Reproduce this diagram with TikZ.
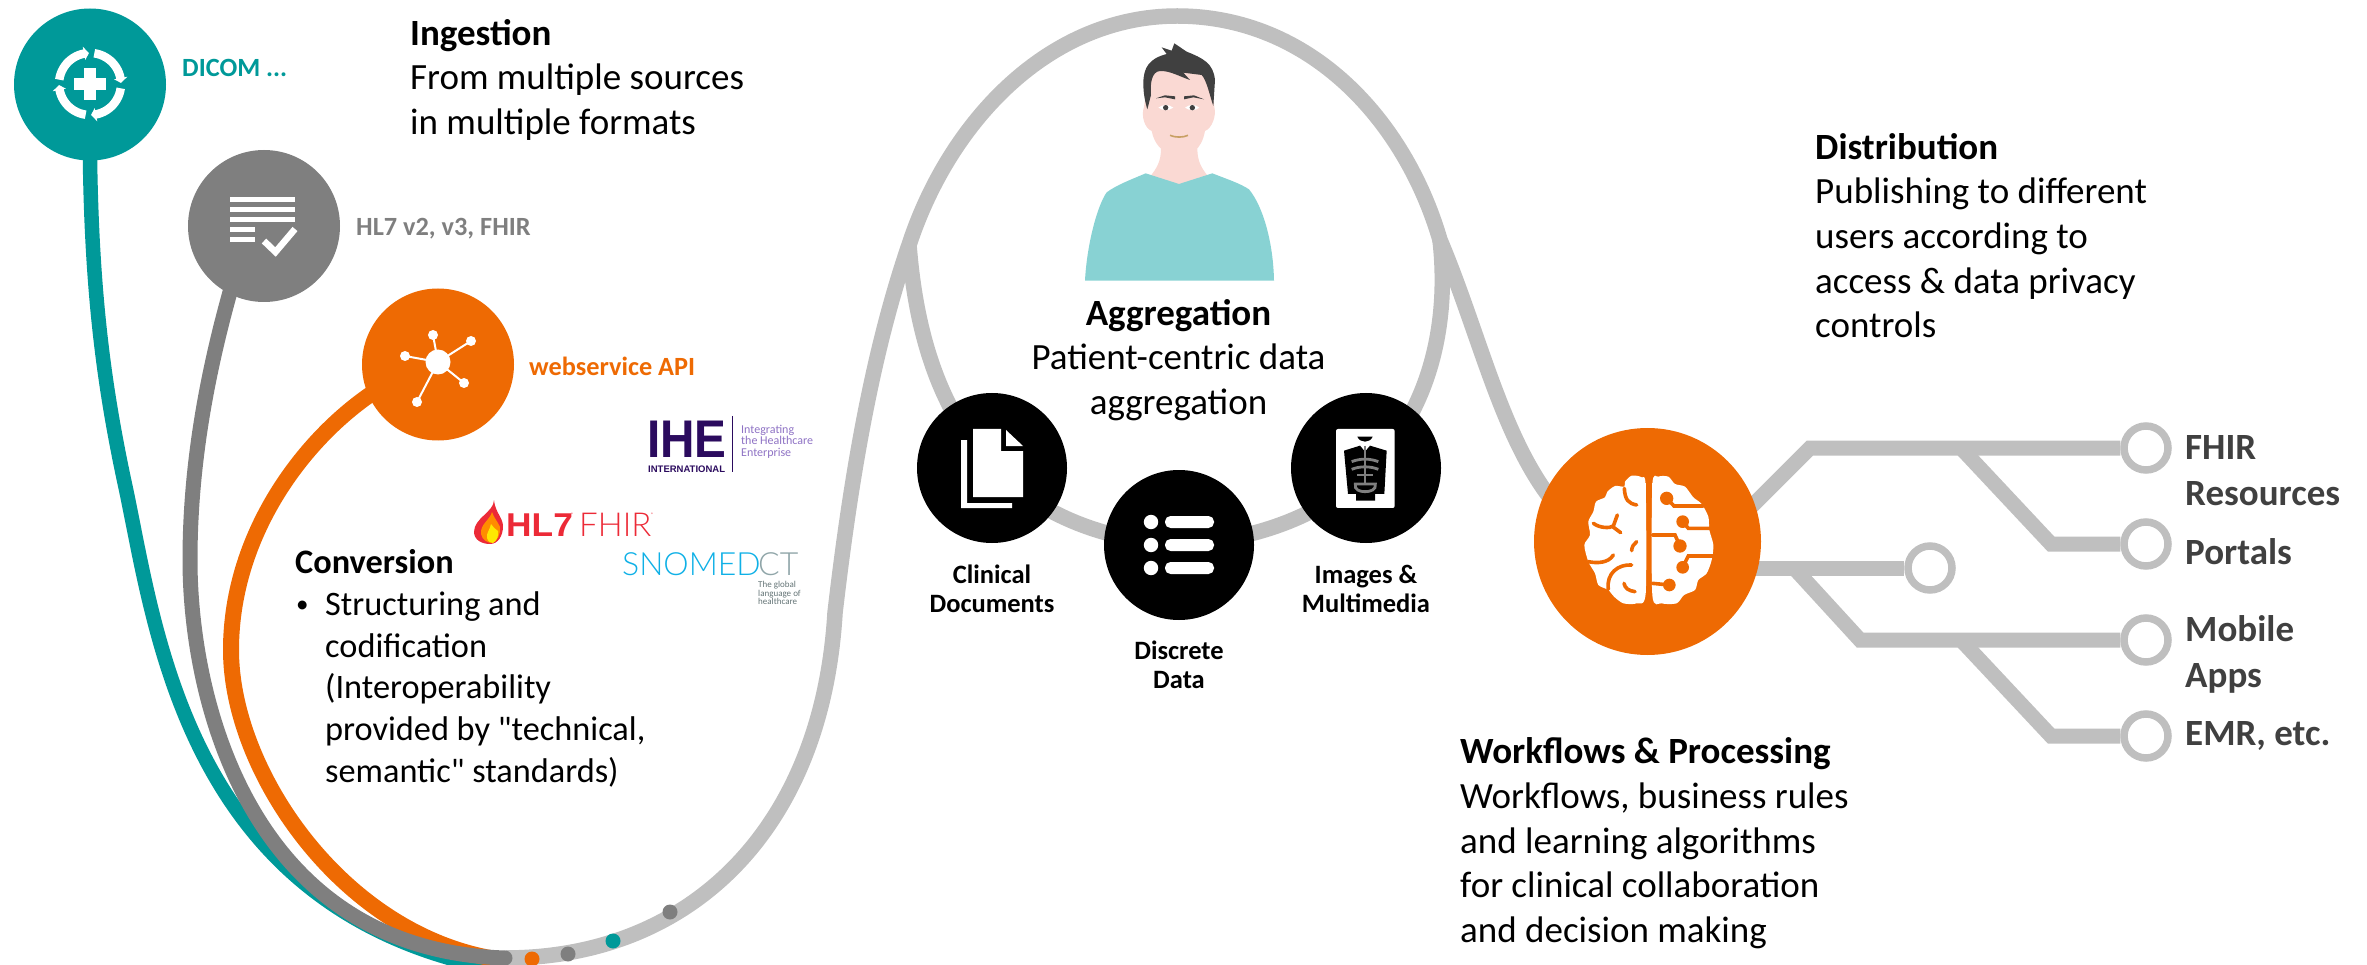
\documentclass[tikz,border=0pt]{standalone}
\usepackage{fontspec}
\setmainfont{Carlito}
\newfontfamily\plainf{Carlito}
\newfontfamily\lightf{Lato Light}
\newfontfamily\helv{Liberation Sans}
\usetikzlibrary{calc}
\pgfdeclarelayer{back}
\pgfsetlayers{back,main}
\definecolor{cteal}{HTML}{009999}
\definecolor{cgray}{HTML}{7F7F7F}
\definecolor{corange}{HTML}{EE6A03}
\definecolor{clight}{HTML}{BFBFBF}
\definecolor{cdark}{HTML}{404040}
\definecolor{cshirt}{HTML}{88D2D3}
\definecolor{cskin}{HTML}{FAD9D3}
\definecolor{cpurple}{HTML}{2B0B5E}
\definecolor{clilac}{HTML}{8E72C4}
\definecolor{cred}{HTML}{EC2A37}
\definecolor{ccyan}{HTML}{0FB0E6}
\definecolor{cslate}{HTML}{8FA5A8}
\tikzset{
 txt/.style={inner sep=0pt,anchor=base west,align=left,text=black},
 big/.style={font=\fontsize{37}{44.7}\selectfont},
 conv/.style={font=\fontsize{34.3}{41.8}\selectfont},
 lab/.style={font=\fontsize{26.5}{29}\selectfont\bfseries},
 tag/.style={inner sep=0pt,anchor=base west,font=\fontsize{26.3}{29}\selectfont\bfseries},
 outlab/.style={inner sep=0pt,anchor=base west,align=left,text=cdark,font=\fontsize{37}{45.5}\selectfont\bfseries},
 disc/.style={circle,inner sep=0pt,minimum size=152pt},
 blk/.style={circle,inner sep=0pt,minimum size=150pt,fill=black},
 ringn/.style={circle,draw=clight,fill=white,line width=7.5pt,inner sep=0pt,minimum size=44pt},
 flow/.style={line width=15pt,draw=clight,line join=miter},
 mainline/.style={line width=15.5pt,draw=clight},
 curve/.style={line width=15pt,line cap=round},
 dot/.style={circle,inner sep=0pt,minimum size=15pt}
}
\begin{document}
\begin{tikzpicture}[x=1pt,y=-1pt]
\useasboundingbox (0,0) rectangle (2367,965);
% main nodes
\node[disc,fill=cteal] (teal) at (90,84.5) {};
\node[disc,fill=cgray] (gray) at (264,226) {};
\node[disc,fill=corange] (orange) at (438,364.5) {};
\node[blk] (clin) at (992,468) {};
\node[blk] (discr) at (1179,545) {};
\node[blk] (imgs) at (1366,468) {};
\node[circle,inner sep=0pt,minimum size=227pt,fill=corange] (brain) at (1647.5,541.5) {};
\node[ringn] (r1) at (2146,448) {};
\node[ringn] (r2) at (2146,544) {};
\node[ringn] (r3) at (1930,568) {};
\node[ringn] (r4) at (2146,640) {};
\node[ringn] (r5) at (2146,736) {};
\coordinate (b1) at (1730,528);
\coordinate (b2) at (1700,568);
\coordinate (t1) at (1810,448);
\coordinate (t2) at (1961,448);
\coordinate (t3) at (2051,544);
\coordinate (t4) at (1794,568);
\coordinate (t5) at (1860,640);
\coordinate (t6) at (1961,640);
\coordinate (t7) at (2051,736);
\coordinate (endgray) at (505,958);
\coordinate (jl) at (909,245);
\coordinate (jr) at (1440,240);
\begin{pgfonlayer}{back}
 % main grey line
 \draw[mainline] (endgray) .. controls (690,958) and (822,830) .. (835,613) .. controls (855,440) and (880,330) .. (jl) .. controls (950,120) and (1050,16) .. (1177,16) .. controls (1310,16) and (1405,120) .. (jr) .. controls (1478,330) and (1500,430) .. (1548,495) -- (brain.center);
 \draw[mainline] (jl) .. controls (918,360) and (960,530) .. (discr.center) .. controls (1400,530) and (1455,370) .. (jr);
 % tree
 \draw[flow] (b1) -- (t1) -- (r1);
 \draw[flow] (t2) -- (t3) -- (r2);
 \draw[flow] (b2) -- (r3);
 \draw[flow] (t4) -- (t5) -- (r4);
 \draw[flow] (t6) -- (t7) -- (r5);
 % coloured curves
 \draw[curve,draw=cteal,line width=14.5pt] (teal.center) -- (90,160) .. controls (92,300) and (105,390) .. (124,480) .. controls (155,620) and (180,905) .. (490,968);
 \draw[curve,draw=corange,line width=16pt] (orange.center) -- (385,385) .. controls (310,430) and (231,530) .. (231,650) .. controls (231,770) and (340,930) .. (490,958);
 \draw[curve,draw=cgray] (gray.center) -- (232,285) .. controls (205,380) and (190,470) .. (190,560) .. controls (190,700) and (250,950) .. (endgray);
\end{pgfonlayer}
% dots
\node[dot,fill=corange] (d1) at (532,959) {};
\node[dot,fill=cgray] (d2) at (568,954) {};
\node[dot,fill=cteal] (d3) at (613,941) {};
\node[dot,fill=cgray] (d4) at (670,912) {};
% teal icon
\begin{scope}[shift={(90,84)}]
 \fill[white] (-6.3,-16) rectangle (6.3,16);
 \fill[white] (-16,-6.3) rectangle (16,6.3);
 \foreach \a in {0,90,180,270}{
  \draw[white,line width=8.5pt] plot[domain=\a+8:\a+80,samples=14] (\x:31);
  \fill[white] ({\a+79}:24.5) -- ({\a+79}:38) -- ({\a+88}:31) -- cycle;
 }
\end{scope}
% gray icon
\fill[white] (230,197) rectangle (295,202);
\fill[white] (230,207) rectangle (295,212);
\fill[white] (230,217) rectangle (295,222);
\fill[white] (230,227) rectangle (255,232);
\fill[white] (230,237) rectangle (255,242);
\draw[white,line width=6.5pt] (264,241) -- (275.5,252) -- (295,229);
% orange icon
\fill[white] (438,362) circle (12.5);
\foreach \p in {(433,335),(471,341),(405,356),(464,383),(417,402)}{
 \draw[white,line width=2pt] (438,362) -- \p;
 \fill[white] \p circle (5);
}
% person
\begin{scope}[shift={(1050,30)},x=0.33333pt,y=-0.33333pt]
 \fill[cskin] (300,440) .. controls (320,415) and (333,395) .. (333,355) -- (442,355) .. controls (442,395) and (455,415) .. (475,440) -- (387,465) -- cycle;
 \fill[cskin] (282,230) .. controls (272,260) and (285,295) .. (305,303) .. controls (312,335) and (325,352) .. (345,365) .. controls (370,375) and (410,375) .. (435,362) .. controls (450,350) and (460,330) .. (465,303) .. controls (485,295) and (500,260) .. (493,230) -- (480,110) -- (300,110) -- cycle;
 \fill[cshirt] (105,752) .. controls (110,650) and (140,530) .. (170,487) .. controls (200,465) and (240,450) .. (287,430) -- (387,462) -- (487,430) .. controls (530,447) and (570,460) .. (597,478) .. controls (640,530) and (670,640) .. (672,752) -- cycle;
 \fill[cdark] (280,160) .. controls (280,110) and (300,85) .. (350,72) -- (335,52) -- (365,62) -- (373,40) -- (410,65) .. controls (460,85) and (490,100) .. (495,150) -- (490,228) .. controls (480,200) and (470,150) .. (455,135) -- (400,128) -- (420,150) .. controls (390,140) and (360,122) .. (330,123) .. controls (305,125) and (300,160) .. (303,195) -- (292,238) .. controls (285,215) and (280,190) .. (280,160) -- cycle;
 \fill[cdark] (318,205) -- (345,196) -- (375,199) -- (375,208) -- (345,202) -- cycle;
 \fill[cdark] (402,199) -- (432,196) -- (462,208) -- (430,202) -- (402,208) -- cycle;
 \fill[white] (325,233) .. controls (340,222) and (355,222) .. (370,233) .. controls (355,243) and (340,243) .. (325,233) -- cycle;
 \fill[white] (405,233) .. controls (420,222) and (435,222) .. (448,233) .. controls (435,243) and (420,243) .. (405,233) -- cycle;
 \fill[cdark] (347,233) circle (8);
 \fill[cdark] (427,233) circle (8);
 \draw[draw={rgb,255:red,200;green,160;blue,100},line width=1.6pt] (360,316) .. controls (375,323) and (400,323) .. (414,316);
\end{scope}
% document icon
\fill[white] (973,429) -- (1001,429) -- (1001,451) -- (1023,451) -- (1023,497) -- (973,497) -- cycle;
\fill[white] (1006,430) -- (1023,446) -- (1006,446) -- cycle;
\fill[white] (961,440) -- (967,440) -- (967,503) -- (1012,503) -- (1012,508) -- (961,508) -- cycle;
% discrete icon
\foreach \yy in {522,545,568}{
 \fill[white] (1151,\yy) circle (7.2);
 \fill[white,rounded corners=5.5pt] (1165,\yy-6) rectangle (1214,\yy+6);
}
% x-ray icon
\begin{scope}[shift={(1270,380)},x=0.33333pt,y=-0.33333pt]
 \fill[white,rounded corners=2pt] (198,147) rectangle (374,384);
 \fill[black] (222,212) -- (270,197) -- (285,215) -- (300,197) -- (350,212) -- (343,342) -- (315,342) -- (315,362) -- (258,362) -- (258,342) -- (234,342) -- cycle;
 \fill[black] (262,170) -- (308,170) .. controls (300,190) and (270,190) .. (262,170) -- cycle;
 \begin{scope}[draw=cgray,line width=2.8pt]
 \draw (285,197) -- (285,310);
 \draw (245,245) .. controls (270,235) and (300,235) .. (325,245);
 \draw (245,268) .. controls (270,258) and (300,258) .. (325,268);
 \draw (262,285) -- (308,285);
 \draw (256,312) -- (316,312) .. controls (320,330) and (300,335) .. (285,335) .. controls (270,335) and (252,330) .. (256,312) -- cycle;
 \end{scope}
\end{scope}
% brain
\begin{scope}[shift={(1530,420)},x=0.33333pt,y=-0.33333pt]
 \fill[white] plot[smooth cycle,tension=0.45] coordinates {(347,200) (335,172) (305,167) (285,185) (283,200) (255,198) (232,215) (225,232) (198,245) (190,275) (175,305) (180,345) (163,375) (175,425) (195,460) (205,495) (235,510) (252,530) (280,550) (320,550) (347,520)};
 \fill[white] (335,190) rectangle (347,520);
 \fill[white] plot[smooth cycle,tension=0.45] coordinates {(367,195) (385,170) (415,170) (435,192) (465,200) (490,232) (515,252) (535,290) (538,330) (550,375) (545,420) (530,460) (505,480) (495,510) (462,525) (440,550) (395,550) (367,525)};
 \fill[white] (367,190) rectangle (380,520);
 \begin{scope}[draw=corange,line width=3.6pt,line cap=round]
 \draw (283,205) .. controls (285,240) and (295,250) .. (320,255);
 \draw (190,310) .. controls (210,325) and (240,325) .. (250,318) .. controls (255,305) and (258,295) .. (262,285);
 \draw (248,320) -- (272,338);
 \draw (175,425) .. controls (200,430) and (235,430) .. (250,405);
 \draw (235,508) .. controls (228,460) and (265,432) .. (305,435);
 \draw (282,490) .. controls (285,505) and (295,512) .. (315,515);
 \draw (305,392) .. controls (305,380) and (312,372) .. (320,365);
 \draw (410,235) -- (432,258) -- (520,258);
 \draw (458,305) -- (475,325) -- (540,325);
 \draw (367,345) -- (435,345) -- (450,378);
 \draw (552,408) -- (475,408) -- (458,442);
 \draw (367,490) -- (418,495);
 \end{scope}
 \fill[corange] (410,235) circle (20);
 \fill[corange] (458,305) circle (19);
 \fill[corange] (450,378) circle (20);
 \fill[corange] (458,442) circle (19);
 \fill[corange] (418,495) circle (19);
\end{scope}
% IHE logo
\node[inner sep=0pt,anchor=base west,text=cpurple] (ihe) at (647,457) {\scalebox{0.9}[1]{\helv\fontsize{53}{53}\selectfont\bfseries IHE}};
\node[inner sep=0pt,anchor=base west,text=cpurple,font=\helv\fontsize{9.5}{11}\selectfont\bfseries] (iheint) at (648,472) {INTERNATIONAL};
\draw[draw=cpurple,line width=0.8pt] (732,416) -- (732,472);
\node[inner sep=0pt,anchor=base west,text=clilac,font=\fontsize{12}{11.2}\selectfont] (ihet1) at (741,434) {Integrating};
\node[inner sep=0pt,anchor=base west,text=clilac,font=\fontsize{12}{11.2}\selectfont] (ihet2) at (741,445) {the Healthcare};
\node[inner sep=0pt,anchor=base west,text=clilac,font=\fontsize{12}{11.2}\selectfont] (ihet3) at (741,456) {Enterprise};
% HL7 FHIR logo
\fill[cred] (494,500) .. controls (494,512) and (474,518) .. (474,532) .. controls (474,540) and (482,544) .. (490,544) .. controls (498,544) and (503,536) .. (503,526) .. controls (503,518) and (495,512) .. (494,500) -- cycle;
\fill[orange!90!yellow] (492,512) .. controls (490,520) and (480,524) .. (481,534) .. controls (482,540) and (488,543) .. (492,543) .. controls (497,542) and (501,534) .. (500,527) .. controls (498,522) and (494,518) .. (492,512) -- cycle;
\fill[yellow!90!orange] (491,524) .. controls (490,530) and (486,533) .. (487,538) .. controls (488,542) and (491,543) .. (493,543) .. controls (497,541) and (499,535) .. (498,531) .. controls (495,529) and (493,527) .. (491,524) -- cycle;
\node[inner sep=0pt,anchor=base west,text=cred] (hl7) at (506,536) {\scalebox{1.07}[1]{\helv\fontsize{33}{33}\selectfont\bfseries HL7}};
\node[inner sep=0pt,anchor=base west,text=cred] (fhirlogo) at (579,536) {\lightf\fontsize{33}{33}\selectfont FHIR};
\node[inner sep=0pt,anchor=base west,text=cred,font=\fontsize{5}{5}\selectfont] (reg1) at (571,516) {®};
\node[inner sep=0pt,anchor=base west,text=cred,font=\fontsize{5}{5}\selectfont] (reg2) at (651,516) {®};
% SNOMED logo
\node[inner sep=0pt,anchor=base west,text=ccyan] (snomed) at (622,575) {\lightf\fontsize{32}{32}\selectfont SNOMED};
\node[inner sep=0pt,anchor=base west,text=cslate] (ct) at (758,575) {\lightf\fontsize{32}{32}\selectfont CT};
\node[inner sep=0pt,anchor=base west,text=cslate!70!black,font=\fontsize{9}{9}\selectfont] (sn1) at (758,587) {The global};
\node[inner sep=0pt,anchor=base west,text=cslate!70!black,font=\fontsize{9}{9}\selectfont] (sn2) at (758,596) {language of};
\node[inner sep=0pt,anchor=base west,text=cslate!70!black,font=\fontsize{9}{9}\selectfont] (sn3) at (758,604) {healthcare};
% tags
\node[tag,text=cteal] (t_dicom) at (182,77) {DICOM ...};
\node[tag,text=cgray] (t_hl7) at (356,236) {HL7 v2, v3, FHIR};
\node[tag,text=corange] (t_web) at (529,376) {webservice API};
% text blocks
\node[txt,big] (ing) at (410,134.5) {\textbf{Ingestion}\\From multiple sources\\in multiple formats};
\node[txt,conv] (conv) at (295,573.5) {\textbf{Conversion}};
\node[txt,font=\fontsize{25}{25}\selectfont] (bul) at (296,612) {•};
\node[txt,conv] (convb) at (325,782.5) {Structuring and\\codification\\(Interoperability\\provided by {\plainf"}technical,\\semantic{\plainf"} standards)};
\node[txt,big,anchor=base,align=center] (agg) at (1178.5,414.5) {\textbf{Aggregation}\\Patient-centric data\\aggregation};
\node[txt,lab,anchor=base,align=center] (l1) at (992,612) {Clinical\\Documents};
\node[txt,lab,anchor=base,align=center] (l2) at (1179,688) {Discrete\\Data};
\node[txt,lab,anchor=base,align=center] (l3) at (1366,612) {Images \&\\Multimedia};
\node[txt,big] (dist) at (1815,338) {\textbf{Distribution}\\Publishing to different\\users according to\\access \& data privacy\\controls};
\node[txt,big] (wf) at (1460,942.5) {\textbf{Workflows \& Processing}\\Workflows, business rules\\and learning algorithms\\for clinical collaboration\\and decision making};
\node[outlab] (o1) at (2185,505) {FHIR\\Resources};
\node[outlab] (o2) at (2185,564) {Portals};
\node[outlab] (o3) at (2185,687) {Mobile\\Apps};
\node[outlab] (o4) at (2185,745) {EMR, etc.};
\end{tikzpicture}
\end{document}
